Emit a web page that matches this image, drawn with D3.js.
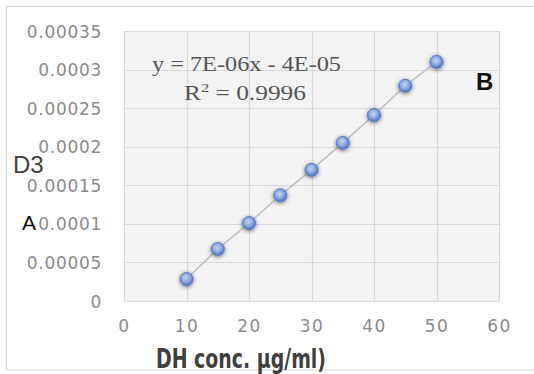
<!DOCTYPE html>
<html><head><meta charset="utf-8">
<script src="https://cdn.jsdelivr.net/npm/d3@7"></script>
<style>body{margin:0;background:#fff}svg{display:block}</style>
</head><body>
<script>
const concentrations = [10, 15, 20, 25, 30, 35, 40, 45, 50];
const absorbance = [0.0000285, 0.0000674, 0.000101, 0.000137, 0.000170, 0.000205, 0.000241, 0.000279, 0.000310];
const xTicks = [0, 10, 20, 30, 40, 50, 60];
const yTicks = [0, 0.00005, 0.0001, 0.00015, 0.0002, 0.00025, 0.0003, 0.00035];
const yTickLabels = ["0", "0.00005", "0.0001", "0.00015", "0.0002", "0.00025", "0.0003", "0.00035"];
const equationText = "y = 7E-06x - 4E-05";
const r2Value = "0.9996";
const xTitle = "DH conc. \u03BCg/ml)";

const W = 534, H = 374;
const svg = d3.select("body").append("svg").attr("width", W).attr("height", H);
const defs = svg.append("defs");
const grad = defs.append("radialGradient").attr("id", "mk").attr("cx", "45%").attr("cy", "40%").attr("r", "60%");
grad.append("stop").attr("offset", "0%").attr("stop-color", "#c3d4f2");
grad.append("stop").attr("offset", "55%").attr("stop-color", "#8aa8e0");
grad.append("stop").attr("offset", "100%").attr("stop-color", "#4a6fbf");
const f = defs.append("filter").attr("id", "sh").attr("x", "-60%").attr("y", "-60%").attr("width", "220%").attr("height", "220%");
f.append("feGaussianBlur").attr("in", "SourceAlpha").attr("stdDeviation", 2).attr("result", "b");
f.append("feOffset").attr("in", "b").attr("dx", 0).attr("dy", 1).attr("result", "o");
f.append("feComponentTransfer").attr("in", "o").attr("result", "o2").append("feFuncA").attr("type", "linear").attr("slope", 0.55);
const fm = f.append("feMerge");
fm.append("feMergeNode").attr("in", "o2");
fm.append("feMergeNode").attr("in", "SourceGraphic");

// outer chart border
svg.append("rect").attr("x", 6.5).attr("y", 6.5).attr("width", 540).attr("height", 363.5)
  .attr("fill", "none").attr("stroke", "#d9d9d9").attr("stroke-width", 1.2);

const x = d3.scaleLinear().domain([0, 60]).range([124, 499]);
const y = d3.scaleLinear().domain([0, 0.00035]).range([301, 31]);

// plot area
svg.append("rect").attr("x", x(0)).attr("y", y(0.00035)).attr("width", x(60) - x(0)).attr("height", y(0) - y(0.00035))
  .attr("fill", "#f3f3f3");

// gridlines
const grid = svg.append("g");
grid.selectAll(".hg").data(yTicks).join("line")
  .attr("x1", x(0)).attr("x2", x(60)).attr("y1", d => Math.round(y(d)) + 0.5).attr("y2", d => Math.round(y(d)) + 0.5)
  .attr("stroke", "#d9d9d9").attr("stroke-width", 1.2);
grid.selectAll(".vg").data(xTicks).join("line")
  .attr("y1", y(0)).attr("y2", y(0.00035)).attr("x1", d => Math.round(x(d)) + 0.5).attr("x2", d => Math.round(x(d)) + 0.5)
  .attr("stroke", "#d9d9d9").attr("stroke-width", 1.2);

// axes (labels only)
const yAxis = svg.append("g").attr("transform", `translate(${x(0)},0)`)
  .call(d3.axisLeft(y).tickValues(yTicks).tickFormat((d, i) => yTickLabels[i]).tickSize(0).tickPadding(22));
yAxis.select(".domain").remove();
yAxis.selectAll("text").attr("font-family", "DejaVu Sans").attr("font-size", 17).attr("fill", "#8a8a8a")
  .attr("letter-spacing", "0.7px").attr("dy", "0.36em");

const xAxis = svg.append("g").attr("transform", `translate(0,${y(0)})`)
  .call(d3.axisBottom(x).tickValues(xTicks).tickFormat(d3.format("d")).tickSize(0).tickPadding(25));
xAxis.select(".domain").remove();
xAxis.selectAll("text").attr("font-family", "DejaVu Sans").attr("font-size", 17).attr("fill", "#8a8a8a")
  .attr("letter-spacing", "1.5px").attr("dy", "0.36em");

// series line
const line = d3.line().x((d, i) => x(concentrations[i])).y(d => y(d));
svg.append("path").datum(absorbance).attr("d", line).attr("fill", "none")
  .attr("stroke", "#bfbfbf").attr("stroke-width", 1.5);

// markers
svg.selectAll(".pt").data(absorbance).join("circle")
  .attr("cx", (d, i) => x(concentrations[i])).attr("cy", d => y(d)).attr("r", 6.5)
  .attr("fill", "url(#mk)").attr("stroke", "#5b7cc4").attr("stroke-width", 1).attr("filter", "url(#sh)");

// equation
svg.append("text").attr("x", 152).attr("y", 71).attr("font-family", "Liberation Serif").attr("font-size", 20)
  .attr("fill", "#555").attr("textLength", 189).attr("lengthAdjust", "spacingAndGlyphs").text(equationText);
const r2 = svg.append("text").attr("x", 184).attr("y", 100).attr("font-family", "Liberation Serif").attr("font-size", 20)
  .attr("fill", "#555").attr("textLength", 122).attr("lengthAdjust", "spacingAndGlyphs");
r2.append("tspan").text("R");
r2.append("tspan").attr("dy", -8).attr("font-size", 13).text("2");
r2.append("tspan").attr("dy", 8).text(" = " + r2Value);

// axis titles / annotations
svg.append("text").attr("x", 156).attr("y", 368).attr("font-family", "DejaVu Sans Condensed").attr("font-weight", "bold")
  .attr("font-size", 26).attr("fill", "#3f3f3f").attr("textLength", 170).attr("lengthAdjust", "spacingAndGlyphs").text(xTitle);
svg.append("text").attr("x", 13).attr("y", 173).attr("font-family", "Liberation Sans").attr("font-size", 24)
  .attr("fill", "#404040").text("D3");
svg.append("text").attr("x", 22).attr("y", 230).attr("font-family", "Liberation Sans").attr("font-size", 21)
  .attr("fill", "#111").text("A");
svg.append("text").attr("x", 476).attr("y", 90).attr("font-family", "Liberation Sans").attr("font-weight", "bold").attr("font-size", 24)
  .attr("fill", "#111").text("B");
</script>
</body></html>
